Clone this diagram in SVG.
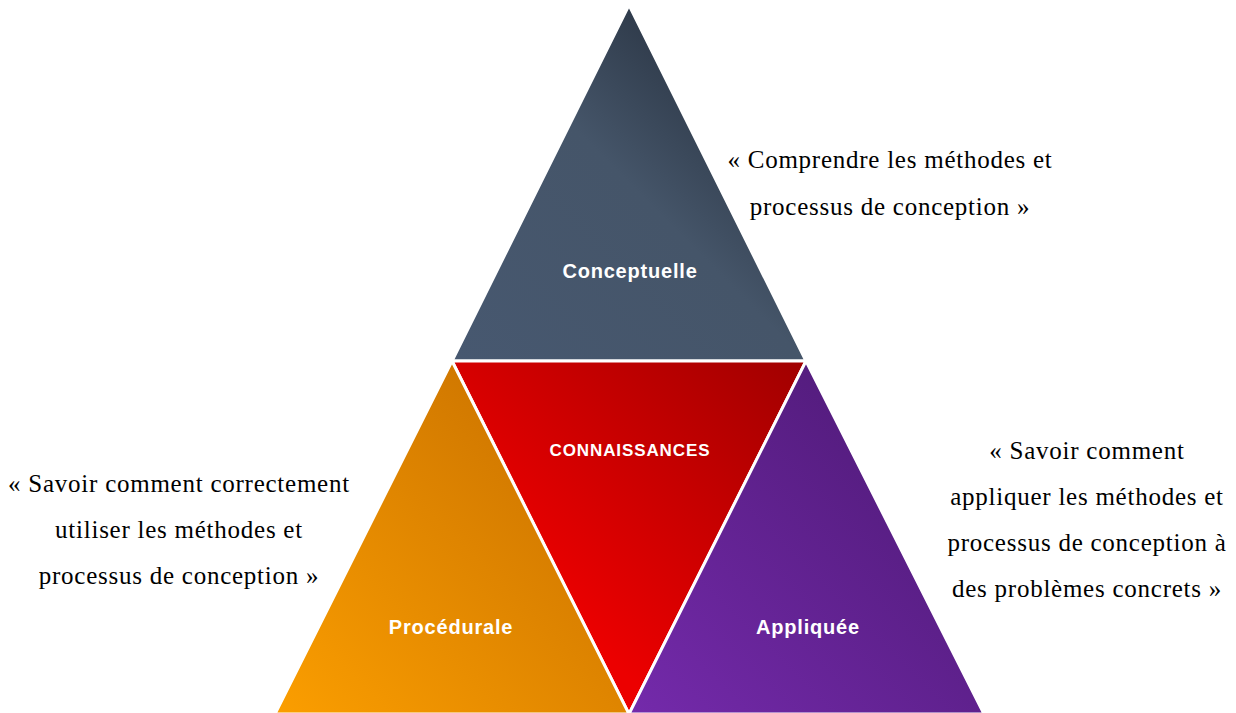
<svg xmlns="http://www.w3.org/2000/svg" width="1236" height="713" viewBox="0 0 1236 713">
<defs>
<linearGradient id="gTop" x1="0" y1="1" x2="1" y2="0">
<stop offset="0" stop-color="#475870"/>
<stop offset="0.5" stop-color="#455569"/>
<stop offset="0.85" stop-color="#27313f"/>
<stop offset="1" stop-color="#222a36"/>
</linearGradient>
<linearGradient id="gMid" x1="0" y1="1" x2="1" y2="0">
<stop offset="0.3" stop-color="#ec0000"/>
<stop offset="1" stop-color="#a00000"/>
</linearGradient>
<linearGradient id="gLeft" x1="0" y1="1" x2="1" y2="0">
<stop offset="0" stop-color="#fb9e00"/>
<stop offset="1" stop-color="#c36c00"/>
</linearGradient>
<linearGradient id="gRight" x1="0" y1="1" x2="1" y2="0">
<stop offset="0" stop-color="#742aab"/>
<stop offset="1" stop-color="#4a1870"/>
</linearGradient>
</defs>
<style>
.tri{stroke:#ffffff;stroke-width:3;stroke-linejoin:miter}
.lbl{font-family:"Liberation Sans",Arial,sans-serif;font-weight:bold;fill:#ffffff;text-anchor:middle;font-size:20px;letter-spacing:0.8px}
.quote{font-family:"Liberation Serif","Times New Roman",serif;font-size:25px;letter-spacing:0.75px;fill:#000000;text-anchor:middle}
</style>
<rect width="1236" height="713" fill="#ffffff"/>
<g id="conceptuelle">
<polygon class="tri" points="629,5 806,361 452,361" fill="url(#gTop)"/>
<text class="lbl" x="630" y="278">Conceptuelle</text>
</g>
<g id="connaissances">
<polygon class="tri" points="452,361 806,361 629,714" fill="url(#gMid)"/>
<text class="lbl" x="630" y="456" style="font-size:17px;letter-spacing:0.9px">CONNAISSANCES</text>
</g>
<g id="procedurale">
<polygon class="tri" points="452,361 629,714 275,714" fill="url(#gLeft)"/>
<text class="lbl" x="451" y="634">Procédurale</text>
</g>
<g id="appliquee">
<polygon class="tri" points="806,361 984,714 629,714" fill="url(#gRight)"/>
<text class="lbl" x="808" y="634">Appliquée</text>
</g>
<g id="connectors"></g>
<g id="quote-conceptuelle">
<text class="quote" x="890" y="168">« Comprendre les méthodes et</text>
<text class="quote" x="890" y="215">processus de conception »</text>
</g>
<g id="quote-procedurale">
<text class="quote" x="179" y="492">« Savoir comment correctement</text>
<text class="quote" x="179" y="538">utiliser les méthodes et</text>
<text class="quote" x="179" y="584">processus de conception »</text>
</g>
<g id="quote-appliquee">
<text class="quote" x="1087" y="459">« Savoir comment</text>
<text class="quote" x="1087" y="505">appliquer les méthodes et</text>
<text class="quote" x="1087" y="551">processus de conception à</text>
<text class="quote" x="1087" y="597">des problèmes concrets »</text>
</g>
</svg>
